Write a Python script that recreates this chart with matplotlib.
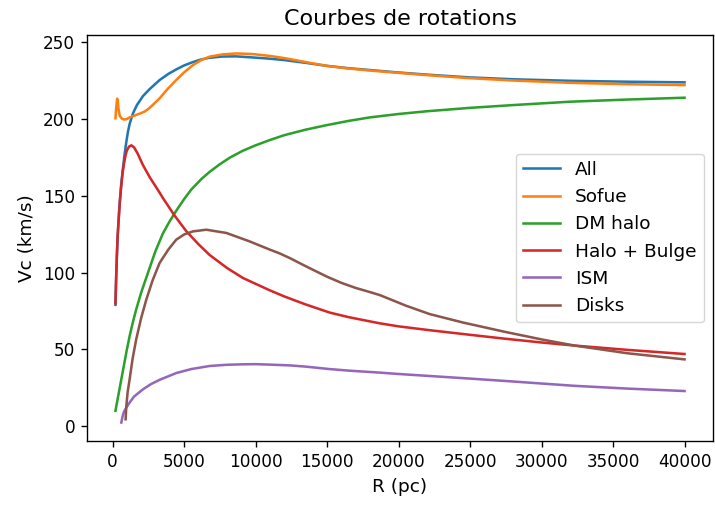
import matplotlib
matplotlib.use("Agg")
import matplotlib.pyplot as plt

# --- data ---
r_all = [200, 250, 300, 350, 400, 450, 500, 600, 700, 840, 960, 1070, 1200, 1420, 1700, 2120, 2600, 3290,
         3900, 4450, 5000, 5620, 6200, 6780, 7700, 8650, 9800, 10980, 12000, 13500, 15000, 16500, 18000,
         20000, 22000, 25000, 28000, 32000, 36000, 40000]
v_all = [79, 97, 111, 123, 131, 139, 146, 157, 166, 177, 185, 191.5, 197, 203.5, 209, 214.8, 219.5, 225.3,
         229.3, 232.2, 234.8, 237, 238.7, 239.8, 240.6, 240.7, 240, 239.2, 238.3, 236.5, 234.5, 233, 231.8,
         230.2, 228.8, 227, 225.8, 224.8, 224.2, 223.8]

r_sofue = [200, 250, 320, 370, 420, 500, 650, 800, 960, 1200, 1650, 2000, 2240, 2500, 2800, 3290, 3800,
           4450, 5000, 5620, 6200, 6780, 7700, 8650, 9800, 10980, 12000, 13500, 15000, 16500, 18000, 20000,
           22000, 25000, 28000, 32000, 36000, 40000]
v_sofue = [200.4, 207, 213.2, 210.5, 206, 202, 200.2, 199.6, 199.8, 201, 202.6, 203.8, 204.8, 206.5, 209,
           213.4, 219, 225.3, 230.3, 235, 238.3, 240.5, 242, 242.6, 242.2, 241, 239.6, 237, 234.5, 232.8,
           231.5, 230, 228.5, 226.5, 225, 223.5, 222.6, 222]

r_dm = [200, 400, 600, 800, 1000, 1200, 1400, 1650, 2000, 2590, 3000, 3520, 4000, 4450, 5000, 5500, 6200,
        6780, 7500, 8200, 9110, 10000, 10980, 12000, 13500, 15000, 16500, 18000, 20000, 22000, 25000,
        28000, 32000, 36000, 40000]
v_dm = [10, 20, 30, 40, 50, 59, 67, 76, 87, 103, 114, 125.5, 133.5, 140.2, 147.8, 154, 160.8,
        165.5, 170.5, 174.8, 179.3, 182.8, 186.2, 189.4, 193, 196, 198.7, 201, 203.2, 205, 207.2,
        209, 211.2, 212.6, 213.8]

r_bulge = [200, 250, 300, 350, 400, 450, 500, 600, 700, 800, 900, 1000, 1150, 1310, 1500, 1750, 2120,
           2600, 3290, 3520, 4340, 5150, 6000, 6780, 8000, 9110, 10980, 12000, 13430, 15170, 16500,
           18670, 20000, 22170, 25000, 27400, 30000, 32300, 36000, 40000]
v_bulge = [80, 97, 111, 123, 131, 138, 145, 156, 165, 171, 176, 179.5, 182, 182.8, 181.5, 177.5, 170,
           162, 152, 148.5, 137, 127, 118.5, 111.5, 103, 96.5, 88.5, 84.5, 79.5, 74, 71,
           67, 65, 62.5, 59.5, 57, 54.5, 52.5, 49.7, 47]

r_ism = [610, 700, 800, 950, 1190, 1500, 2120, 2700, 3290, 4450, 5500, 6780, 8000, 9110, 10000, 10980,
         12380, 13500, 15170, 16500, 18670, 20000, 22170, 25000, 27400, 30000, 32300, 36000, 40000]
v_ism = [2.4, 6.5, 9.5, 12, 15.4, 19.3, 24, 27.5, 30.2, 34.6, 37.2, 39.2, 40, 40.3, 40.4, 40.1,
         39.6, 38.8, 37.2, 36.2, 34.9, 34, 32.7, 31, 29.5, 27.8, 26.3, 24.5, 22.9]

r_disks = [910, 960, 1050, 1190, 1400, 1650, 2000, 2360, 2800, 3290, 3900, 4450, 5000, 5620, 6550, 7950,
           9580, 10980, 11680, 12380, 13430, 14300, 15000, 16000, 17000, 18000, 18700, 19500, 20500,
           22170, 24500, 27400, 30000, 32300, 36000, 40000]
v_disks = [4.5, 13, 22, 30.5, 44, 56.5, 70.5, 82.5, 95, 106.3, 115, 121.4, 124.8, 126.8, 127.9, 125.8,
           120.3, 115, 112.5, 109.5, 104.5, 100.5, 97.3, 93.3, 90, 87.3, 85.3, 82.3, 78.5,
           73, 67.5, 61.5, 56.5, 52.5, 47.5, 43.5]

labels = ["All", "Sofue", "DM halo", "Halo + Bulge", "ISM", "Disks"]
title = "Courbes de rotations"
xlabel = "R (pc)"
ylabel = "Vc (km/s)"

s = 1.22
plt.rcParams.update({
    "axes.linewidth": 0.8 * s,
    "xtick.major.size": 3.5 * s, "ytick.major.size": 3.5 * s,
    "xtick.major.width": 0.8 * s, "ytick.major.width": 0.8 * s,
    "xtick.major.pad": 3.5 * s, "ytick.major.pad": 3.5 * s,
})

fig = plt.figure(figsize=(7.15, 5.05), dpi=100)
ax = fig.add_axes([87 / 715, 1 - 441 / 505, (713 - 87) / 715, (441 - 35) / 505])

series = [(r_all, v_all), (r_sofue, v_sofue), (r_dm, v_dm), (r_bulge, v_bulge), (r_ism, v_ism), (r_disks, v_disks)]
for (r, v), lab in zip(series, labels):
    ax.plot(r, v, label=lab, lw=1.5 * s)

ax.set_title(title, fontsize=16, pad=6 * s)
ax.set_xlabel(xlabel, fontsize=13.3, labelpad=4 * s)
ax.set_ylabel(ylabel, fontsize=13.3, labelpad=4 * s)
ax.tick_params(labelsize=12.2)
ax.set_yticks([0, 50, 100, 150, 200, 250])
ax.set_xticks(range(0, 40001, 5000))
ax.legend(loc="center right", fontsize=13.3, borderaxespad=0.5, handlelength=2.0)

fig.savefig("out.png", dpi=100)
